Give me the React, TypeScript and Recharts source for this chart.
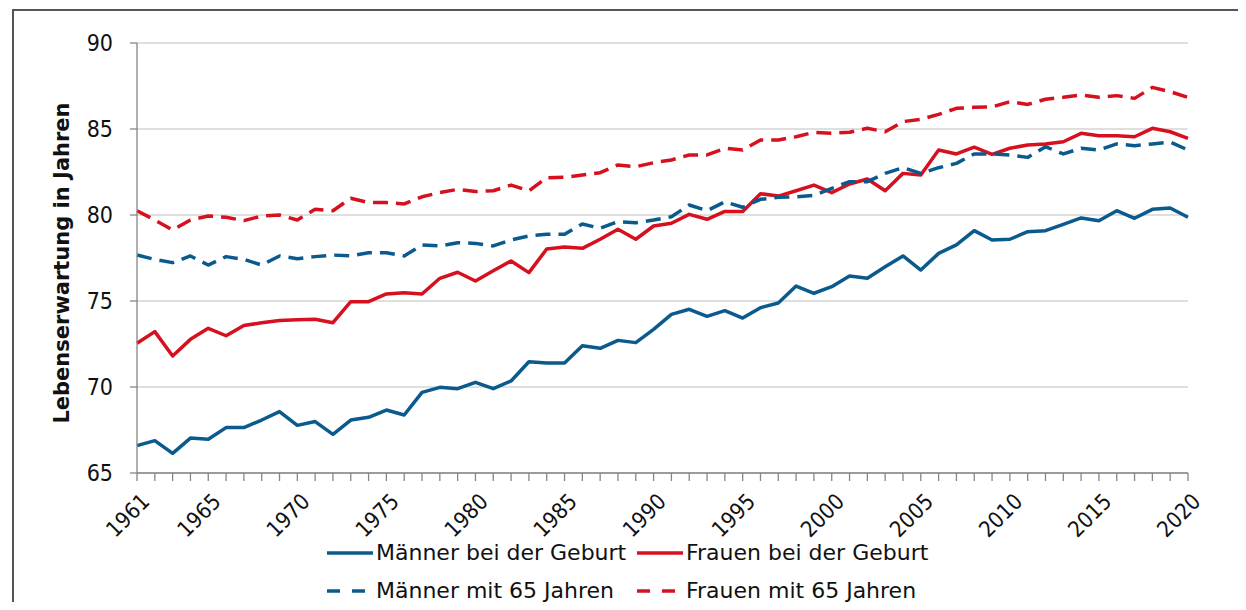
import React from 'react';
import { LineChart, Line, XAxis, YAxis, CartesianGrid } from 'recharts';

const years = [
  1961, 1962, 1963, 1964, 1965, 1966, 1967, 1968, 1969, 1970,
  1971, 1972, 1973, 1974, 1975, 1976, 1977, 1978, 1979, 1980,
  1981, 1982, 1983, 1984, 1985, 1986, 1987, 1988, 1989, 1990,
  1991, 1992, 1993, 1994, 1995, 1996, 1997, 1998, 1999, 2000,
  2001, 2002, 2003, 2004, 2005, 2006, 2007, 2008, 2009, 2010,
  2011, 2012, 2013, 2014, 2015, 2016, 2017, 2018, 2019, 2020,
];

const menBirth = [
  66.59, 66.88, 66.14, 67.03, 66.96, 67.64, 67.64, 68.08, 68.57, 67.77,
  67.99, 67.25, 68.08, 68.24, 68.66, 68.37, 69.69, 69.98, 69.9, 70.27,
  69.9, 70.35, 71.47, 71.4, 71.4, 72.4, 72.25, 72.71, 72.58, 73.35,
  74.22, 74.52, 74.11, 74.44, 74.01, 74.61, 74.88, 75.87, 75.45, 75.83,
  76.45, 76.32, 76.99, 77.62, 76.8, 77.77, 78.26, 79.09, 78.55, 78.59,
  79.03, 79.09, 79.46, 79.83, 79.67, 80.25, 79.81, 80.33, 80.41, 79.87,
];

const womenBirth = [
  72.54, 73.22, 71.8, 72.77, 73.41, 72.98, 73.57, 73.74, 73.86, 73.91,
  73.94, 73.74, 74.96, 74.96, 75.41, 75.48, 75.41, 76.32, 76.67, 76.16,
  76.76, 77.33, 76.65, 78.02, 78.14, 78.06, 78.59, 79.17, 78.59, 79.36,
  79.52, 80.04, 79.75, 80.21, 80.21, 81.24, 81.1, 81.41, 81.74, 81.3,
  81.8, 82.09, 81.41, 82.42, 82.33, 83.78, 83.55, 83.94, 83.53, 83.88,
  84.07, 84.13, 84.26, 84.75, 84.61, 84.61, 84.55, 85.04, 84.84, 84.46,
];

const men65 = [
  77.67, 77.42, 77.23, 77.62, 77.09, 77.58, 77.42, 77.09, 77.62, 77.46,
  77.58, 77.67, 77.63, 77.81, 77.81, 77.62, 78.26, 78.2, 78.39, 78.35,
  78.2, 78.55, 78.78, 78.88, 78.88, 79.48, 79.23, 79.61, 79.55, 79.71,
  79.9, 80.58, 80.25, 80.77, 80.45, 80.91, 81.03, 81.06, 81.14, 81.55,
  81.94, 81.94, 82.42, 82.75, 82.42, 82.75, 83.0, 83.55, 83.55, 83.49,
  83.35, 83.97, 83.55, 83.88, 83.78, 84.13, 84.03, 84.13, 84.24, 83.78,
];

const women65 = [
  80.25, 79.71, 79.13, 79.71, 79.94, 79.87, 79.67, 79.94, 80.0, 79.71,
  80.33, 80.25, 80.97, 80.72, 80.72, 80.64, 81.06, 81.3, 81.49, 81.36,
  81.41, 81.74, 81.4, 82.17, 82.19, 82.33, 82.46, 82.91, 82.81, 83.04,
  83.2, 83.49, 83.49, 83.88, 83.78, 84.36, 84.36, 84.55, 84.81, 84.75,
  84.81, 85.04, 84.84, 85.43, 85.56, 85.85, 86.2, 86.26, 86.28, 86.59,
  86.43, 86.73, 86.84, 86.98, 86.84, 86.94, 86.78, 87.42, 87.17, 86.84,
];

const xLabelYears = [1961, 1965, 1970, 1975, 1980, 1985, 1990, 1995, 2000, 2005, 2010, 2015, 2020];
const yTicks = [65, 70, 75, 80, 85, 90];

const BLUE = '#0A5A8E';
const RED = '#D6101E';
const FONT = '"DejaVu Sans", Verdana, sans-serif';
const TICK_FONT = '"DejaVu Sans Condensed", "DejaVu Sans", sans-serif';
const TEXT = '#111111';

const seriesDefs = [
  { key: 'menBirth', name: 'Männer bei der Geburt', color: BLUE, dashed: false },
  { key: 'womenBirth', name: 'Frauen bei der Geburt', color: RED, dashed: false },
  { key: 'men65', name: 'Männer mit 65 Jahren', color: BLUE, dashed: true },
  { key: 'women65', name: 'Frauen mit 65 Jahren', color: RED, dashed: true },
];

const data = years.map((year, i) => ({
  year,
  menBirth: menBirth[i],
  womenBirth: womenBirth[i],
  men65: men65[i],
  women65: women65[i],
}));

function XTick(props: any) {
  const { x, y, payload } = props;
  if (!xLabelYears.includes(payload.value)) return <g />;
  const ax = x + 8.5;
  const ay = y + 16.5;
  return (
    <text
      x={ax}
      y={ay}
      dy="0.35em"
      textAnchor="end"
      transform={`rotate(-45, ${ax}, ${ay})`}
      fontSize={22}
      fontFamily={TICK_FONT}
      fontStretch="condensed"
      fill={TEXT}
    >
      {payload.value}
    </text>
  );
}

function YTitle(props: any) {
  const vb = props && props.viewBox ? props.viewBox : { y: 35, height: 430 };
  const cx = 61;
  const cy = vb.y + vb.height / 2 + 5;
  return (
    <text
      x={cx}
      y={cy}
      textAnchor="middle"
      transform={`rotate(-90, ${cx}, ${cy})`}
      fontSize={21}
      fontWeight="bold"
      fontFamily={FONT}
      fill={TEXT}
    >
      Lebenserwartung in Jahren
    </text>
  );
}

export default function App() {
  return (
    <div style={{ position: 'relative', width: 1238, height: 594, overflow: 'hidden', background: '#fff' }}>
      <div
        style={{
          position: 'absolute',
          left: 4,
          top: 1,
          width: 1400,
          height: 800,
          border: '2px solid #555555',
          boxSizing: 'border-box',
        }}
      />
      <div style={{ position: 'absolute', left: 0, top: 0 }}>
        <LineChart
          width={1238}
          height={594}
          data={data}
          margin={{ top: 35, right: 58, left: 0, bottom: 69 }}
        >
          <CartesianGrid vertical={false} stroke="#D4D4D4" strokeWidth={1.3} />
          <XAxis
            dataKey="year"
            type="number"
            domain={[1961, 2020]}
            ticks={years}
            interval={0}
            tick={<XTick />}
            tickSize={8}
            tickMargin={0}
            height={60}
            stroke="#868686"
            strokeWidth={1.3}
            allowDecimals={false}
          />
          <YAxis
            type="number"
            domain={[65, 90]}
            ticks={yTicks}
            interval={0}
            width={129}
            tickSize={7}
            tickMargin={17}
            stroke="#868686"
            strokeWidth={1.3}
            tick={{ fontSize: 23, fontFamily: TICK_FONT, fontStretch: 'condensed', fill: TEXT }}
            label={(p: any) => <YTitle {...p} />}
          />
          {seriesDefs.map((s) => (
            <Line
              key={s.key}
              type="linear"
              dataKey={s.key}
              name={s.name}
              stroke={s.color}
              strokeWidth={3.5}
              strokeDasharray={s.dashed ? '15 8' : undefined}
              strokeLinejoin="round"
              dot={false}
              activeDot={false}
              isAnimationActive={false}
            />
          ))}
        </LineChart>
      </div>
      <div
        style={{
          position: 'absolute',
          left: 319,
          top: 526,
          display: 'grid',
          gridTemplateColumns: '310px 310px',
          fontFamily: FONT,
          fontSize: 22,
          color: TEXT,
        }}
      >
        {seriesDefs.map((s) => (
          <div key={s.key} style={{ display: 'flex', alignItems: 'center', height: 38 }}>
            <svg width={46} height={10} style={{ display: 'block' }}>
              <line
                x1={0}
                y1={5}
                x2={46}
                y2={5}
                stroke={s.color}
                strokeWidth={3.5}
                strokeDasharray={s.dashed ? '13 12' : undefined}
              />
            </svg>
            <span style={{ marginLeft: 3, lineHeight: '38px', whiteSpace: 'nowrap' }}>{s.name}</span>
          </div>
        ))}
      </div>
    </div>
  );
}
